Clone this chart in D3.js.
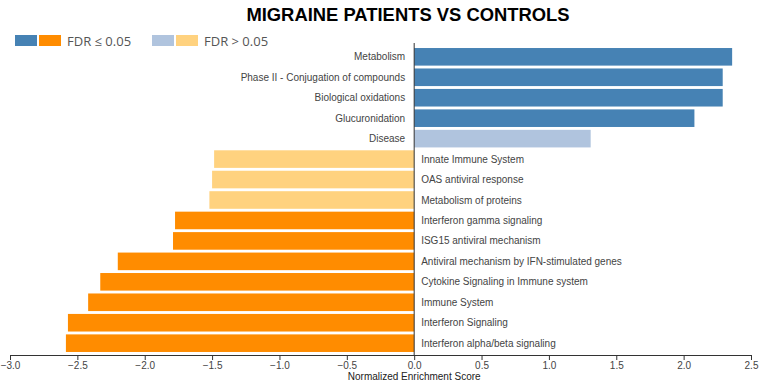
<!DOCTYPE html>
<html>
<head>
<meta charset="utf-8">
<script src="https://cdn.jsdelivr.net/npm/d3@7"></script>
<style>
  body { margin: 0; background: #fff; }
  svg { display: block; font-family: "Liberation Sans", Arial, sans-serif; }
</style>
</head>
<body>
<div id="content"></div>
<script>
// pathways, top to bottom
const pathways = [
    "Metabolism",
    "Phase II - Conjugation of compounds",
    "Biological oxidations",
    "Glucuronidation",
    "Disease",
    "Innate Immune System",
    "OAS antiviral response",
    "Metabolism of proteins",
    "Interferon gamma signaling",
    "ISG15 antiviral mechanism",
    "Antiviral mechanism by IFN-stimulated genes",
    "Cytokine Signaling in Immune system",
    "Immune System",
    "Interferon Signaling",
    "Interferon alpha/beta signaling"
];
const nes = [2.36, 2.29, 2.29, 2.08, 1.31, -1.485, -1.50, -1.52, -1.775, -1.79, -2.20, -2.33, -2.42, -2.57, -2.585];
const significant = [true, true, true, true, false, false, false, false, true, true, true, true, true, true, true];
const xTicks = [-3.0, -2.5, -2.0, -1.5, -1.0, -0.5, 0.0, 0.5, 1.0, 1.5, 2.0, 2.5];

const width = 760, height = 383;

const svg = d3.select("#content")
    .append("svg")
    .attr("width", width)
    .attr("height", height);

// scales
const xScale = d3.scaleLinear()
    .domain([-3, 2.5])
    .range([10, 751]);

const yScale = d3.scaleBand()
    .domain(pathways)
    .range([47, 353])
    .paddingInner(0.14)
    .paddingOuter(0.05);

function barColor(v, sig) {
    if (v >= 0) return sig ? "#4682b4" : "#b0c4de";
    return sig ? "#ff8c00" : "#ffd27f";
}

const data = pathways.map((p, i) => ({ name: p, value: nes[i], sig: significant[i] }));

// bars
svg.selectAll("rect.bar")
    .data(data)
    .enter()
    .append("rect")
    .attr("class", "bar")
    .attr("x", d => xScale(Math.min(0, d.value)))
    .attr("y", d => yScale(d.name))
    .attr("width", d => Math.abs(xScale(d.value) - xScale(0)))
    .attr("height", yScale.bandwidth())
    .attr("fill", d => barColor(d.value, d.sig));

// pathway labels on the opposite side of zero
svg.selectAll("text.label")
    .data(data)
    .enter()
    .append("text")
    .attr("class", "label")
    .attr("x", d => d.value >= 0 ? xScale(0) - 9 : xScale(0) + 7)
    .attr("y", d => yScale(d.name) + yScale.bandwidth() / 2)
    .attr("dy", "0.35em")
    .attr("text-anchor", d => d.value >= 0 ? "end" : "start")
    .style("font-size", "10px")
    .style("fill", "#444")
    .text(d => d.name);

// zero line
svg.append("line")
    .attr("x1", xScale(0))
    .attr("x2", xScale(0))
    .attr("y1", 43)
    .attr("y2", 355)
    .attr("stroke", "#333")
    .attr("stroke-width", 1);

// x axis
const xAxis = d3.axisBottom(xScale)
    .tickValues(xTicks)
    .tickFormat(d3.format(".1f"))
    .tickSize(5)
    .tickSizeOuter(0);

const gx = svg.append("g")
    .attr("id", "x-axis")
    .attr("transform", "translate(0,355)")
    .call(xAxis);
gx.select(".domain").attr("stroke", "#333");
gx.selectAll(".tick line").attr("stroke", "#333");
gx.selectAll(".tick text")
    .attr("y", 7)
    .style("font-family", "'Liberation Sans', Arial, sans-serif")
    .style("font-size", "10px")
    .style("fill", "#444");

// axis title
svg.append("text")
    .attr("x", xScale(0))
    .attr("y", 380)
    .attr("text-anchor", "middle")
    .style("font-size", "10px")
    .style("fill", "#222")
    .text("Normalized Enrichment Score");

// chart title
svg.append("text")
    .attr("x", 408)
    .attr("y", 21)
    .attr("text-anchor", "middle")
    .style("font-size", "18.4px")
    .style("font-weight", "bold")
    .style("fill", "#000")
    .text("MIGRAINE PATIENTS VS CONTROLS");

// legend
const legendItems = [
    { colors: ["#4682b4", "#ff8c00"], label: "FDR \u2264 0.05", x: 15 },
    { colors: ["#b0c4de", "#ffd27f"], label: "FDR > 0.05", x: 152 }
];
const legend = svg.append("g").attr("class", "legend");
legendItems.forEach(item => {
    item.colors.forEach((c, j) => {
        legend.append("rect")
            .attr("x", item.x + j * 24)
            .attr("y", 35)
            .attr("width", 22)
            .attr("height", 11)
            .attr("fill", c);
    });
    legend.append("text")
        .attr("x", item.x + 52)
        .attr("y", 41)
        .attr("dy", "0.35em")
        .style("font-family", "'Open Sans', 'Noto Sans', sans-serif")
        .style("font-size", "13px")
        .style("fill", "#555")
        .text(item.label);
});
</script>
</body>
</html>
